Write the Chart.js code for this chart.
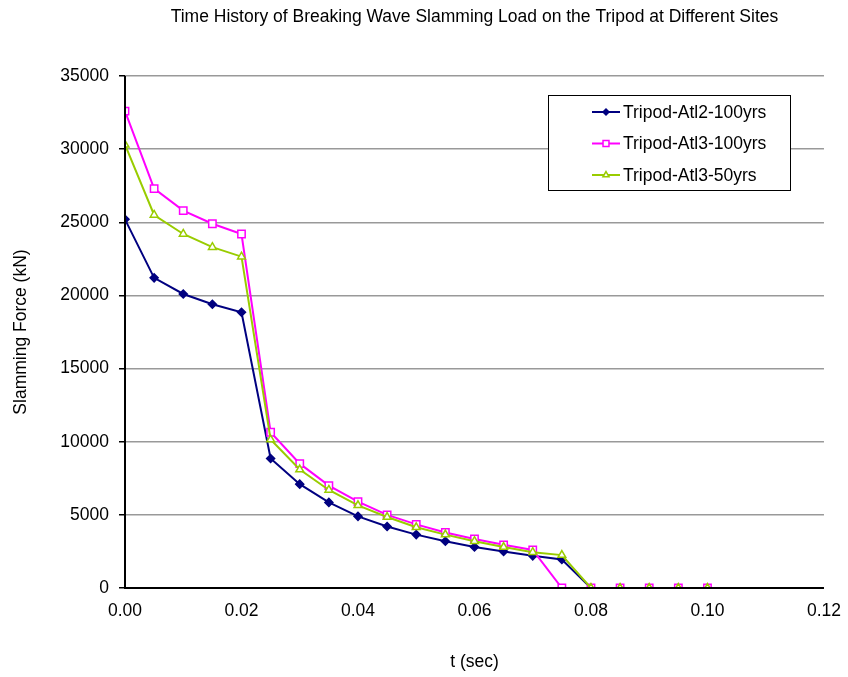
<!DOCTYPE html>
<html lang="en">
<head>
    <meta charset="UTF-8">
    <title>Breaking Wave Slamming Load</title>
    <script src="https://cdn.jsdelivr.net/npm/chart.js"></script>
    <style>
        body{
            margin: 0;
            background-color: white;
        }
        #wrap{
            width: 848px;
            height: 677px;
        }
    </style>
</head>
<body>

<div id="wrap">
    <canvas id="slamChart" width="848" height="677"></canvas>
</div>

<script>
    // time points (sec)
    const times = [0.000, 0.005, 0.010, 0.015, 0.020, 0.025, 0.030, 0.035, 0.040,
                   0.045, 0.050, 0.055, 0.060, 0.065, 0.070, 0.075, 0.080, 0.085,
                   0.090, 0.095, 0.100];

    // slamming force (kN)
    const atl2_100 = [25200, 21200, 20100, 19400, 18850, 8850, 7100, 5850, 4900,
                      4200, 3650, 3200, 2800, 2500, 2200, 1950, 0, 0, 0, 0, 0];
    const atl3_100 = [32600, 27300, 25800, 24900, 24200, 10650, 8500, 7000, 5900,
                      5000, 4350, 3800, 3350, 2950, 2600, 0, 0, 0, 0, 0, 0];
    const atl3_50 = [30300, 25500, 24200, 23300, 22650, 10150, 8100, 6700, 5650,
                     4850, 4150, 3650, 3200, 2800, 2450, 2250, 0, 0, 0, 0, 0];

    const seriesNames = ['Tripod-Atl2-100yrs', 'Tripod-Atl3-100yrs', 'Tripod-Atl3-50yrs'];
    const xTicks = [0, 0.02, 0.04, 0.06, 0.08, 0.10, 0.12];
    const yTicks = [0, 5000, 10000, 15000, 20000, 25000, 30000, 35000];

    const FONT = 'Liberation Sans, Arial, sans-serif';
    const FS = 17.5;

    function pts(ys) {
        return times.map((t, i) => ({ x: t, y: ys[i] }));
    }

    const lines = [
        { name: seriesNames[0], data: atl2_100, color: '#000080', shape: 'rectRot', r: 4, fill: '#000080' },
        { name: seriesNames[1], data: atl3_100, color: '#FF00FF', shape: 'rect', r: 5.2, fill: '#ffffff' },
        { name: seriesNames[2], data: atl3_50, color: '#99CC00', shape: 'triangle', r: 4.5, fill: '#ffffff' }
    ];

    // legend box drawn inside the plot, Excel style
    const boxLegend = {
        id: 'boxLegend',
        afterDraw(chart) {
            const ctx = chart.ctx;
            const x0 = 548, y0 = 95, w = 242, h = 95;
            ctx.save();
            ctx.fillStyle = 'white';
            ctx.fillRect(x0, y0, w, h);
            ctx.strokeStyle = '#000';
            ctx.lineWidth = 1;
            ctx.strokeRect(x0 + 0.5, y0 + 0.5, w, h);
            ctx.font = FS + 'px ' + FONT;
            ctx.textBaseline = 'middle';
            lines.forEach((s, i) => {
                const cy = y0 + 17 + i * 31.5;
                ctx.strokeStyle = s.color;
                ctx.lineWidth = 2;
                ctx.beginPath();
                ctx.moveTo(592, cy);
                ctx.lineTo(620, cy);
                ctx.stroke();
                ctx.fillStyle = s.fill;
                ctx.lineWidth = 1.5;
                Chart.helpers.drawPoint(ctx, {
                    pointStyle: s.shape, radius: s.r - 1, borderWidth: 1.5, rotation: 0
                }, 606, cy);
                ctx.fillStyle = '#000';
                ctx.fillText(s.name, 623, cy + 1);
            });
            ctx.restore();
        }
    };

    // black axis lines on left and bottom
    const axisLines = {
        id: 'axisLines',
        afterDatasetsDraw(chart) {
            const a = chart.chartArea;
            const ctx = chart.ctx;
            ctx.save();
            ctx.strokeStyle = '#000';
            ctx.lineWidth = 2;
            ctx.beginPath();
            ctx.moveTo(a.left, a.top);
            ctx.lineTo(a.left, a.bottom);
            ctx.lineTo(a.right, a.bottom);
            ctx.stroke();
            ctx.restore();
        }
    };

    function createChart() {
        const ctx = document.getElementById('slamChart').getContext('2d');
        new Chart(ctx, {
            type: 'line',
            data: {
                datasets: lines.map((s, i) => ({
                    label: s.name,
                    data: pts(s.data),
                    order: lines.length - i, // last series on top, like Excel
                    borderColor: s.color,
                    backgroundColor: s.fill,
                    borderWidth: 2,
                    pointStyle: s.shape,
                    pointRadius: s.r,
                    pointBorderWidth: 1.5,
                    pointBorderColor: s.color,
                    pointBackgroundColor: s.fill,
                    tension: 0,
                    fill: false
                }))
            },
            options: {
                responsive: false,
                animation: false,
                layout: { padding: { left: 0, right: 23, top: 0, bottom: 0 } },
                plugins: {
                    legend: { display: false },
                    tooltip: { enabled: false },
                    title: {
                        display: true,
                        fullSize: false,
                        text: 'Time History of Breaking Wave Slamming Load on the Tripod at Different Sites',
                        color: '#000',
                        font: { family: FONT, size: FS, weight: 'normal' },
                        padding: { top: 6.5, bottom: 48.5 }
                    }
                },
                scales: {
                    x: {
                        type: 'linear',
                        min: 0,
                        max: 0.12,
                        afterBuildTicks: s => { s.ticks = xTicks.map(v => ({ value: v })); },
                        afterFit: s => { s.height = 89; },
                        grid: { display: false, drawTicks: true, tickLength: 6, tickColor: '#000' },
                        border: { display: false },
                        ticks: {
                            color: '#000',
                            padding: 7,
                            font: { family: FONT, size: FS },
                            maxRotation: 0,
                            callback: v => v.toFixed(2)
                        },
                        title: {
                            display: true,
                            text: 't (sec)',
                            color: '#000',
                            font: { family: FONT, size: FS },
                            padding: { top: 0, bottom: 4.5 }
                        }
                    },
                    y: {
                        min: 0,
                        max: 35000,
                        afterBuildTicks: s => { s.ticks = yTicks.map(v => ({ value: v })); },
                        afterFit: s => { s.width = 125; },
                        grid: {
                            color: '#999',
                            lineWidth: 1.5,
                            drawTicks: true,
                            tickLength: 6,
                            tickColor: '#000'
                        },
                        border: { display: false },
                        ticks: {
                            color: '#000',
                            padding: 10,
                            font: { family: FONT, size: FS },
                            callback: v => String(v)
                        },
                        title: {
                            display: true,
                            text: 'Slamming Force (kN)',
                            color: '#000',
                            font: { family: FONT, size: FS },
                            padding: { top: 10.5, bottom: 0 }
                        }
                    }
                }
            },
            plugins: [axisLines, boxLegend]
        });
    }

    createChart();
</script>
</body>
</html>
